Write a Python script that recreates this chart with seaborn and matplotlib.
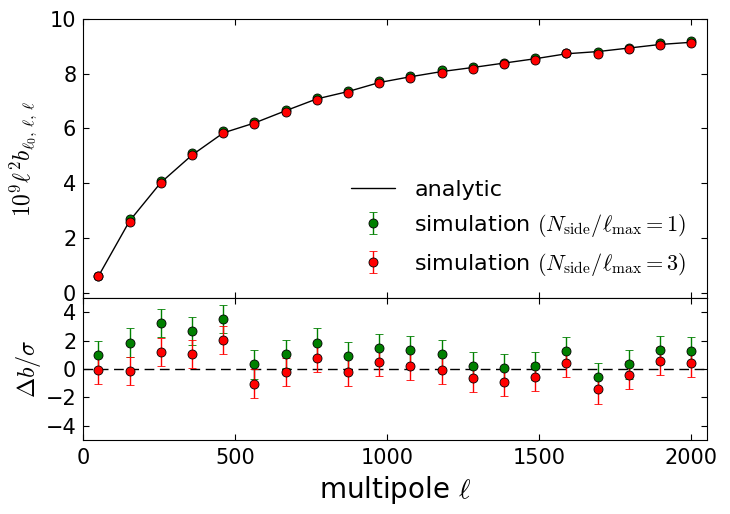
import matplotlib
matplotlib.use("Agg")
import matplotlib.pyplot as plt
import seaborn as sns
import pandas as pd

# ---- data ----
ell = [50, 153, 255, 358, 461, 563, 666, 768, 871, 974,
       1076, 1179, 1282, 1384, 1487, 1589, 1692, 1795, 1897, 2000]
analytic = [0.60, 2.63, 4.02, 5.03, 5.84, 6.20, 6.65, 7.08, 7.35, 7.68,
            7.89, 8.08, 8.23, 8.39, 8.55, 8.73, 8.81, 8.94, 9.07, 9.15]
sim1 = [0.61, 2.68, 4.07, 5.09, 5.91, 6.23, 6.69, 7.13, 7.38, 7.72,
        7.93, 8.12, 8.24, 8.40, 8.56, 8.77, 8.80, 8.95, 9.11, 9.18]
sim3 = [0.60, 2.58, 4.00, 5.02, 5.82, 6.15, 6.62, 7.05, 7.31, 7.65,
        7.86, 8.04, 8.18, 8.36, 8.51, 8.74, 8.73, 8.91, 9.05, 9.14]
sigma_top = [0.02, 0.03, 0.03, 0.03, 0.03, 0.03, 0.03, 0.03, 0.03, 0.03,
             0.03, 0.03, 0.03, 0.03, 0.03, 0.03, 0.03, 0.03, 0.03, 0.03]
res1 = [1.00, 1.86, 3.26, 2.69, 3.55, 0.33, 1.07, 1.86, 0.93, 1.48,
        1.36, 1.07, 0.21, 0.07, 0.21, 1.26, -0.57, 0.33, 1.33, 1.26]
res3 = [-0.07, -0.14, 1.19, 1.05, 2.05, -1.02, -0.21, 0.79, -0.21, 0.48,
        0.21, -0.07, -0.64, -0.88, -0.57, 0.43, -1.43, -0.43, 0.57, 0.43]
res_err = [1.0] * 20
zero_x = [0, 2050]
zero_y = [0, 0]

sns.set_style("white", {
    "xtick.direction": "in", "ytick.direction": "in",
    "xtick.top": True, "ytick.right": True,
    "axes.edgecolor": "black", "axes.linewidth": 1.0,
    "xtick.bottom": True, "ytick.left": True,
    "text.color": "black", "axes.labelcolor": "black",
    "xtick.color": "black", "ytick.color": "black",
})
plt.rcParams["font.family"] = ["DejaVu Sans"]
plt.rcParams["mathtext.fontset"] = "cm"
plt.rcParams["xtick.major.size"] = 4.5
plt.rcParams["ytick.major.size"] = 4.5
plt.rcParams["xtick.major.pad"] = 6
plt.rcParams["ytick.major.pad"] = 5

fig = plt.figure(figsize=(7.3, 5.14), dpi=100)
ax1 = fig.add_axes([0.114, 0.420, 0.854, 0.543])
ax2 = fig.add_axes([0.114, 0.144, 0.854, 0.276], sharex=ax1)

df = pd.DataFrame({"ell": ell, "analytic": analytic})
sns.lineplot(data=df, x="ell", y="analytic", ax=ax1, color="black",
             linewidth=1.0, label="analytic")
ax1.errorbar(ell, sim1, yerr=sigma_top, fmt="o", color="green", ecolor="green",
             mec="black", mew=0.6, ms=6.5, capsize=3, elinewidth=1,
             label=r"simulation $(N_{\rm side}/\ell_{\rm max}=1)$")
ax1.errorbar(ell, sim3, yerr=sigma_top, fmt="o", color="red", ecolor="red",
             mec="black", mew=0.6, ms=6.5, capsize=3, elinewidth=1,
             label=r"simulation $(N_{\rm side}/\ell_{\rm max}=3)$")
ax1.set_xlim(0, 2050)
ax1.set_ylim(-0.2, 10)
ax1.set_yticks([0, 2, 4, 6, 8, 10])
ax1.set_xticks([0, 500, 1000, 1500, 2000])
ax1.tick_params(labelbottom=False, labelsize=15)
ax1.set_xlabel("")
ax1.set_ylabel(r"$10^9\ell^2 b_{\ell_0,\,\ell,\,\ell}$", fontsize=17, labelpad=8)
leg = ax1.legend(loc="lower right", frameon=False, numpoints=1, fontsize=16,
                 labelspacing=0.55, handlelength=2.0, handletextpad=0.85,
                 borderaxespad=0.5)

zdf = pd.DataFrame({"x": zero_x, "y": zero_y})
sns.lineplot(data=zdf, x="x", y="y", ax=ax2, color="black", linestyle="--",
             linewidth=1.0, dashes=False)
ax2.lines[-1].set_dashes((7, 4))
ax2.errorbar(ell, res1, yerr=res_err, fmt="o", color="green", ecolor="green",
             mec="black", mew=0.6, ms=6.5, capsize=3, elinewidth=1)
ax2.errorbar(ell, res3, yerr=res_err, fmt="o", color="red", ecolor="red",
             mec="black", mew=0.6, ms=6.5, capsize=3, elinewidth=1)
ax2.set_xlim(0, 2050)
ax2.set_ylim(-5, 5)
ax2.set_yticks([-4, -2, 0, 2, 4])
ax2.set_xticks([0, 500, 1000, 1500, 2000])
ax2.tick_params(labelsize=15)
ax2.set_xlabel(r"multipole $\ell$", fontsize=20, labelpad=4)
ax2.set_ylabel(r"$\Delta b/\sigma$", fontsize=17.5, labelpad=2)

fig.savefig("out.png", dpi=100)
